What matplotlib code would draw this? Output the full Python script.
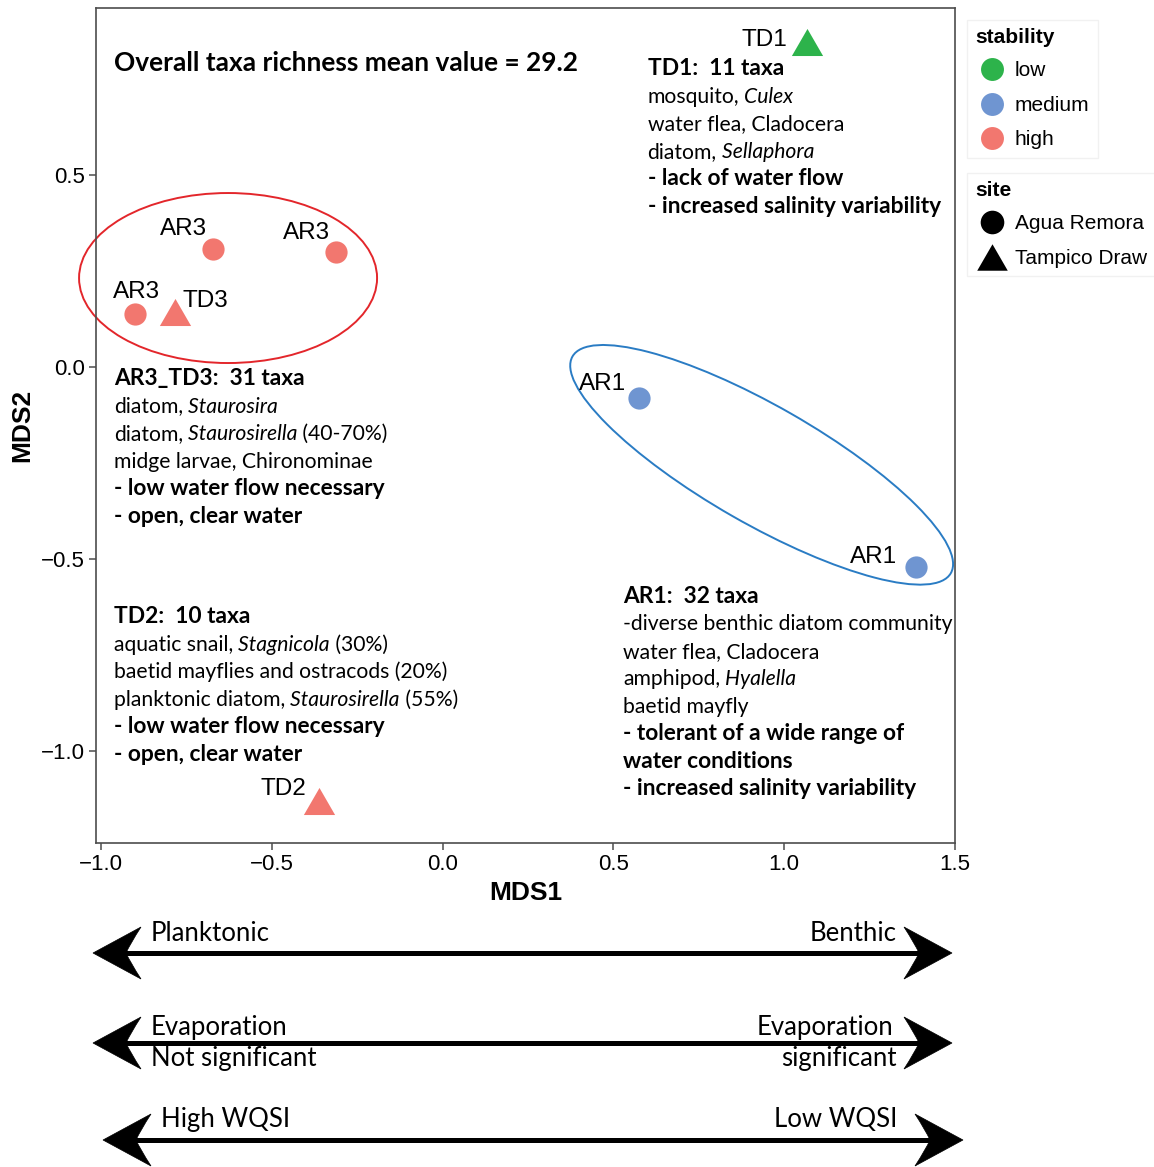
import matplotlib.pyplot as plt
import numpy as np
from matplotlib.patches import Ellipse, PathPatch
from matplotlib.lines import Line2D
from matplotlib.path import Path
from matplotlib.transforms import Affine2D, offset_copy

# NMDS site scores
site_names = ["TD1", "AR3", "AR3", "AR3", "TD3", "AR1", "AR1", "TD2"]
site_group = ["Tampico Draw", "Agua Remora", "Agua Remora", "Agua Remora",
              "Tampico Draw", "Agua Remora", "Agua Remora", "Tampico Draw"]
stability = ["low", "high", "high", "high", "high", "medium", "medium", "high"]
mds1 = [1.067, -0.672, -0.312, -0.900, -0.783, 0.575, 1.386, -0.362]
mds2 = [0.847, 0.308, 0.300, 0.138, 0.143, -0.081, -0.521, -1.132]

stability_levels = ["low", "medium", "high"]
site_levels = ["Agua Remora", "Tampico Draw"]

richness_mean = 29.2

# annotation text blocks: (text, style) pieces per line
td1_block = [
    [("TD1:  11 taxa", "b")],
    [("mosquito,", "n"), (" Culex", "i")],
    [("water flea, Cladocera", "n")],
    [("diatom,", "n"), (" Sellaphora", "i")],
    [("- lack of water flow", "b")],
    [("- increased salinity variability", "b")],
]
ar3_block = [
    [("AR3_TD3:  31 taxa", "b")],
    [("diatom,", "n"), (" Staurosira", "i")],
    [("diatom,", "n"), (" Staurosirella", "i"), (" (40-70%)", "n")],
    [("midge larvae, Chironominae", "n")],
    [("- low water flow necessary", "b")],
    [("- open, clear water", "b")],
]
td2_block = [
    [("TD2:  10 taxa", "b")],
    [("aquatic snail,", "n"), (" Stagnicola", "i"), (" (30%)", "n")],
    [("baetid mayflies and ostracods (20%)", "n")],
    [("planktonic diatom,", "n"), (" Staurosirella", "i"), (" (55%)", "n")],
    [("- low water flow necessary", "b")],
    [("- open, clear water", "b")],
]
ar1_block = [
    [("AR1:  32 taxa", "b")],
    [("-diverse benthic diatom community", "n")],
    [("water flea, Cladocera", "n")],
    [("amphipod,", "n"), (" Hyalella", "i")],
    [("baetid mayfly", "n")],
    [("- tolerant of a wide range of", "b")],
    [("water conditions", "b")],
    [("- increased salinity variability", "b")],
]

# gradient arrows under the plot: left label(s), right label(s)
gradient_left = [["Planktonic"], ["Evaporation", "Not significant"], ["High WQSI"]]
gradient_right = [["Benthic"], ["Evaporation", "significant"], ["Low WQSI"]]

palette = {"low": "#2DB34B", "medium": "#6F95D1", "high": "#F2776F"}
SANS = "Liberation Sans"
BODY = "Lato"

tri = Path([(0, 0.866), (-1, -0.866), (1, -0.866), (0, 0.866)],
           [Path.MOVETO, Path.LINETO, Path.LINETO, Path.CLOSEPOLY])
markers = {"Agua Remora": "o", "Tampico Draw": tri}
msize = {"Agua Remora": 16, "Tampico Draw": 22.5}

W, H = 1154, 1167
fig = plt.figure(figsize=(W / 100, H / 100), dpi=100)
renderer = fig.canvas.get_renderer()
ax = fig.add_axes([96 / W, 1 - 843 / H, 859 / W, 835 / H])
ax.set_xlim(-1.0146, 1.5)
ax.set_ylim(-1.241, 0.936)

for side in ax.spines.values():
    side.set_color("#4d4d4d")
    side.set_linewidth(1.2)
ax.tick_params(length=5, width=1.1, color="#4d4d4d", pad=3, labelsize=16)
ax.set_xticks([-1.0, -0.5, 0.0, 0.5, 1.0, 1.5])
ax.set_yticks([-1.0, -0.5, 0.0, 0.5])
for lab in ax.get_xticklabels() + ax.get_yticklabels():
    lab.set_family(SANS)
ax.set_xlabel("MDS1", family=SANS, fontsize=19, fontweight="bold", labelpad=4)
ax.set_ylabel("MDS2", family=SANS, fontsize=19, fontweight="bold", labelpad=5)

# group ellipses, sized in screen pixels so the tilt survives unequal axis scales
def px_ellipse(cx, cy, w_px, h_px, angle, color):
    pos = ax.get_position()
    sx = pos.width * W / np.diff(ax.get_xlim())[0]
    sy = pos.height * H / np.diff(ax.get_ylim())[0]
    tr = Affine2D().scale(1 / sx, 1 / sy).translate(cx, cy) + ax.transData
    ax.add_patch(Ellipse((0, 0), w_px, h_px, angle=angle, fill=False,
                         ec=color, lw=1.4, transform=tr, clip_on=False))

px_ellipse(-0.628, 0.232, 298, 170, 0, "#E3262B")
px_ellipse(0.934, -0.255, 436, 118, -29.8, "#2A7CC4")

# points and their labels
label_offsets = [(-31, -3), (-21, 10), (-21.5, 9.5), (0.7, 11.5),
                 (21.5, 3.6), (-26.3, 5.8), (-30.6, 2.9), (-25.6, 4.3)]
for i in range(len(site_names)):
    ax.scatter(mds1[i], mds2[i], s=msize[site_group[i]] ** 2,
               marker=markers[site_group[i]], color=palette[stability[i]],
               linewidths=0, zorder=3)
    ax.annotate(site_names[i], (mds1[i], mds2[i]), xytext=label_offsets[i],
                textcoords="offset points", ha="center", va="baseline",
                family=SANS, fontsize=17.5)

# text blocks with mixed bold/italic runs
def rich_block(x, y, lines, size=15.2, bold_size=16.4, step=19.8):
    for k, parts in enumerate(lines):
        dx = 0.0
        for txt, style in parts:
            t = ax.text(x, y, txt, family=BODY, va="baseline", ha="left",
                        fontsize=bold_size if style == "b" else size,
                        fontweight="bold" if style == "b" else "normal",
                        fontstyle="italic" if style == "i" else "normal",
                        transform=offset_copy(ax.transData, fig=fig, x=dx,
                                              y=-k * step, units="points"))
            dx += t.get_window_extent(renderer).width * 72 / fig.dpi

ax.text(-0.962, 0.773, f"Overall taxa richness mean value = {richness_mean}",
        family=BODY, fontsize=18.9, fontweight="bold", va="baseline")
rich_block(0.600, 0.761, td1_block)
rich_block(-0.962, -0.047, ar3_block)
rich_block(-0.962, -0.668, td2_block)
rich_block(0.528, -0.615, ar1_block)

# legends
stab_handles = [Line2D([], [], ls="", marker="o", ms=16.5, mew=0, color=palette[s])
                for s in stability_levels]
site_handles = [Line2D([], [], ls="", marker=markers[s], ms=17 if s == "Agua Remora" else 22,
                       mew=0, color="black") for s in site_levels]
leg_kw = dict(loc="upper left", bbox_transform=fig.transFigure, borderaxespad=0,
              frameon=True, fancybox=False, alignment="left", handlelength=1.6,
              handletextpad=0.3, labelspacing=0.75, borderpad=0.4,
              prop={"family": SANS, "size": 15},
              title_fontproperties={"family": SANS, "size": 15, "weight": "bold"})
leg1 = fig.legend(stab_handles, stability_levels, title="stability",
                  bbox_to_anchor=(967 / W, 1 - 20 / H), **leg_kw)
leg2 = fig.legend(site_handles, site_levels, title="site",
                  bbox_to_anchor=(967 / W, 1 - 173 / H), **leg_kw)
for lg in (leg1, leg2):
    lg.get_frame().set_edgecolor("#EEEEEE")
    lg.get_frame().set_linewidth(1.0)
    lg._legend_box.sep = 10

# double-headed gradient arrows, laid out in figure pixels from the top-left
pix = Affine2D().scale(1 / W, -1 / H).translate(0, 1) + fig.transFigure

def stealth_head(x_tip, y, d):
    verts = [(x_tip, y), (x_tip + d * 48, y - 26), (x_tip + d * 37, y - 9),
             (x_tip + d * 33, y), (x_tip + d * 37, y + 9), (x_tip + d * 48, y + 26),
             (x_tip, y)]
    codes = [Path.MOVETO, Path.LINETO, Path.CURVE3, Path.CURVE3,
             Path.CURVE3, Path.CURVE3, Path.CLOSEPOLY]
    fig.patches.append(PathPatch(Path(verts, codes), fc="black", ec="black",
                                 lw=0.5, transform=pix))

arrow_rows = [(953, 93, 952), (1043, 93, 952), (1140, 103, 963)]
left_text = [[(151, 941)], [(151, 1035), (151, 1066)], [(161, 1127)]]
right_text = [[(897, 941)], [(893, 1035), (897, 1066)], [(897, 1127)]]
for r, (y, xl, xr) in enumerate(arrow_rows):
    fig.add_artist(Line2D([xl + 30, xr - 30], [y, y], color="black", lw=3.6,
                          solid_capstyle="butt", transform=pix))
    stealth_head(xl, y, 1)
    stealth_head(xr, y, -1)
    for txt, (tx, ty) in zip(gradient_left[r], left_text[r]):
        fig.text(tx, ty, txt, transform=pix, family=BODY, fontsize=18.5,
                 ha="left", va="baseline")
    for txt, (tx, ty) in zip(gradient_right[r], right_text[r]):
        fig.text(tx, ty, txt, transform=pix, family=BODY, fontsize=18.5,
                 ha="right", va="baseline")

fig.savefig("out.png", dpi=100)
